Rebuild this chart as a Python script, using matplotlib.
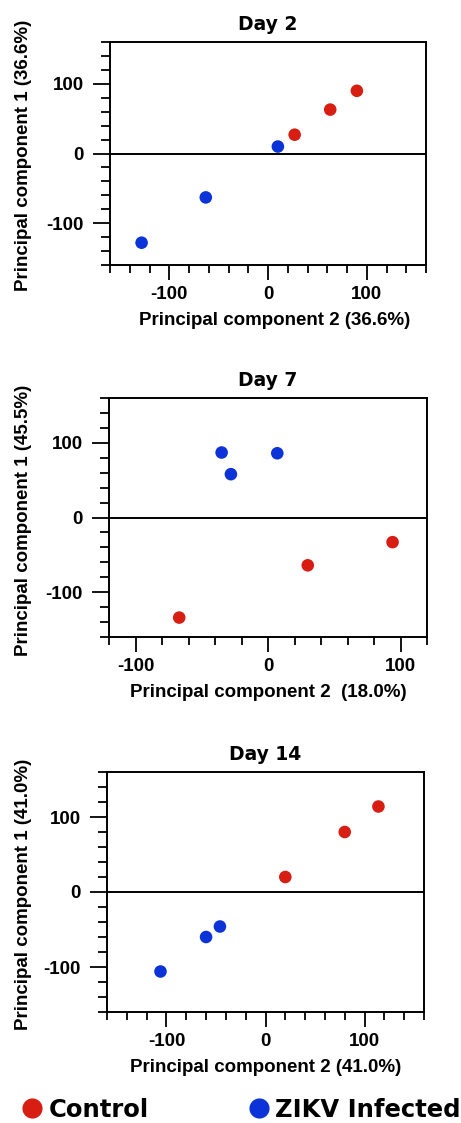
import matplotlib
matplotlib.use("Agg")
import matplotlib.pyplot as plt
from matplotlib.lines import Line2D
from matplotlib.ticker import MultipleLocator

plt.rcParams["font.family"] = ["Liberation Sans", "DejaVu Sans"]
plt.rcParams["font.weight"] = "bold"
plt.rcParams["axes.labelweight"] = "bold"
plt.rcParams["axes.unicode_minus"] = False

RED  = "#D81E12"
BLUE = "#0B33D8"

# one entry per panel
DAYS    = ["Day 2", "Day 7", "Day 14"]
XLABELS = ["Principal component 2 (36.6%)",
           "Principal component 2  (18.0%)",
           "Principal component 2 (41.0%)"]
YLABELS = ["Principal component 1 (36.6%)",
           "Principal component 1 (45.5%)",
           "Principal component 1 (41.0%)"]
XLIMS = [(-160, 160), (-120, 120), (-160, 160)]
YLIMS = [(-160, 160), (-160, 160), (-160, 160)]

# PCA scores
CTRL_X = [[27, 63, 90], [-67, 30, 94], [20, 80, 114]]
CTRL_Y = [[27, 63, 90], [-134, -64, -33], [20, 80, 114]]
ZIKV_X = [[-128, -63, 10], [-35, -28, 7], [-106, -60, -46]]
ZIKV_Y = [[-128, -63, 10], [87, 58, 86], [-106, -60, -46]]

LEGEND_LABELS = ["Control", "ZIKV Infected"]

# axes boxes in pixels: left, top, right, bottom
W, H = 461, 1123
BOXES = [(110, 42, 426, 265), (109, 398, 427, 637), (107, 772, 424, 1012)]
XLAB_X = [0.52, 0.50, 0.50]


def main() -> None:
    fig = plt.figure(figsize=(W / 100, H / 100), dpi=100)

    for i, day in enumerate(DAYS):
        l, t, r, b = BOXES[i]
        ax = fig.add_axes([l / W, 1 - b / H, (r - l) / W, (b - t) / H])

        ax.axhline(0, color="black", lw=1.4, zorder=1)
        ax.scatter(CTRL_X[i], CTRL_Y[i], s=82, color=RED, edgecolors="none", zorder=3)
        ax.scatter(ZIKV_X[i], ZIKV_Y[i], s=82, color=BLUE, edgecolors="none", zorder=3)

        ax.set_xlim(*XLIMS[i])
        ax.set_ylim(*YLIMS[i])
        for ax_ in (ax.xaxis, ax.yaxis):
            ax_.set_major_locator(MultipleLocator(100))
            ax_.set_minor_locator(MultipleLocator(20))

        for sp in ax.spines.values():
            sp.set_linewidth(1.4)

        ax.tick_params(which="both", direction="out", width=1.3, top=False, right=False,
                       labelsize=13.5)
        ax.tick_params(axis="x", which="major", length=11, pad=4)
        ax.tick_params(axis="x", which="minor", length=6)
        ax.tick_params(axis="y", which="major", length=12, pad=7)
        ax.tick_params(axis="y", which="minor", length=6.5)

        ax.set_title(day, family="DejaVu Sans", weight="bold", fontsize=13.5, pad=9)
        ax.set_xlabel(XLABELS[i], fontsize=13.5, weight="bold")
        ax.set_ylabel(YLABELS[i], fontsize=13.5, weight="bold")
        ax.xaxis.set_label_coords(XLAB_X[i], -47 / (b - t))
        ax.yaxis.set_label_coords(-(l - 32) / (r - l), 0.49)

    handles = [Line2D([], [], ls="none", marker="o", markersize=14.5,
                      markerfacecolor=c, markeredgecolor="none") for c in (RED, BLUE)]
    fig.legend(handles, LEGEND_LABELS, loc="center left",
               bbox_to_anchor=(22 / W, 1 - 1110 / H), ncol=2, frameon=False,
               prop=dict(family="DejaVu Sans", weight="bold", size=17.5),
               handlelength=0.85, handletextpad=0.25, columnspacing=4.1,
               borderaxespad=0, borderpad=0)

    fig.savefig("out.png", dpi=100)
    plt.close(fig)


if __name__ == "__main__":
    main()
